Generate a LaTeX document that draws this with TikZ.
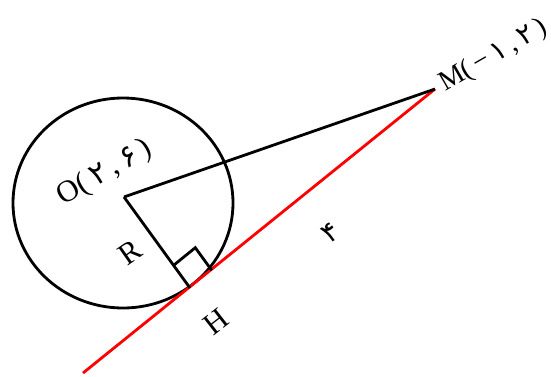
\documentclass[tikz,border=0pt]{standalone}
\usepackage{fontspec}
\setmainfont{Liberation Serif}
\newfontfamily\fadigit{DejaVu Sans}
\usetikzlibrary{calc}

\begin{document}
\begin{tikzpicture}[x=0.75pt,y=-0.75pt]

\useasboundingbox (0,0) rectangle (551,376);

% 样式
\tikzset{
  seg/.style={line width=2.1pt},
  lbl/.style={font=\fontsize{23}{26}\selectfont, inner sep=0pt}
}

% 点
\coordinate (O) at (124,197);
\coordinate (M) at (435,89);
\coordinate (H) at (190,288);
\coordinate (E) at (83,373);

% 圆
\draw[seg] (123,203) ellipse [x radius=110, y radius=105];

% 切线（红色）
\draw[seg,red] (E) -- (M);

% 半径与 OM
\draw[seg] (O) -- (M);
\draw[seg] (O) -- (H);

% 直角记号
\coordinate (Ha) at ($(H)!21pt!(O)$);
\coordinate (Hb) at ($(H)!21pt!(M)$);
\draw[seg] (Ha) -- ($(Ha)+(Hb)-(H)$) -- (Hb);

% 标注
\node[lbl,rotate=30] (lblO) at (105,173) {O(\,{\fadigit ۲}\,,\,{\fadigit ۶}\,)};
\node[lbl,rotate=30,anchor=base west,font=\fontsize{21}{24}\selectfont] (lblM) at (445,92) {M(\,−\,{\fadigit ۱}\,,\,{\fadigit ۲}\,)};
\node[lbl,rotate=35] (lblR) at (130,252) {R};
\node[lbl,rotate=38] (lblH) at (216,322) {H};
\node[lbl,rotate=35] (lbl4) at (330,233) {\fadigit\fontsize{21}{24}\selectfont ۴};

\end{tikzpicture}
\end{document}
